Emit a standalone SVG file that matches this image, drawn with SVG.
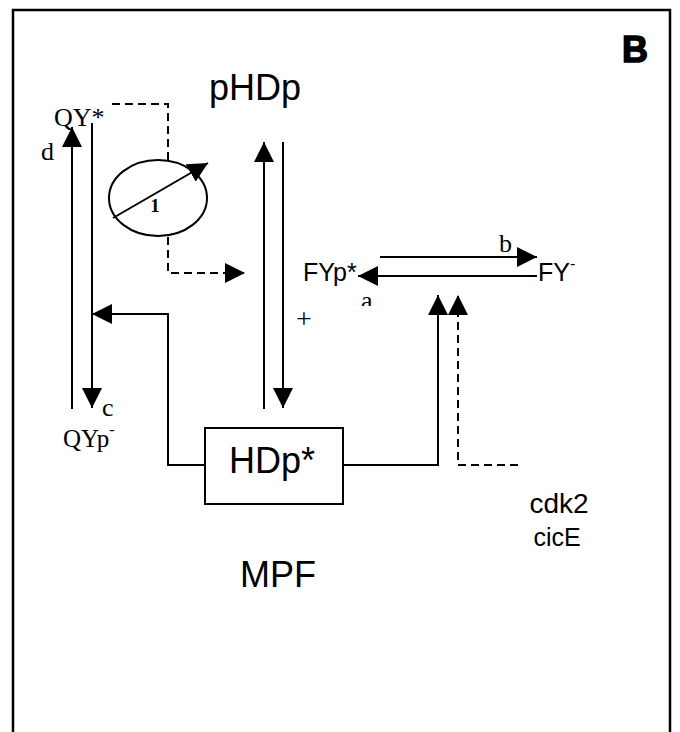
<svg xmlns="http://www.w3.org/2000/svg" width="680" height="732" viewBox="0 0 680 732">
<style>
.ln{stroke:#000;stroke-width:2;fill:none}
.ds{stroke:#000;stroke-width:2;fill:none;stroke-dasharray:8 5}
.sans{font-family:"Liberation Sans",Arial,sans-serif;fill:#000}
.serif{font-family:"Liberation Serif","Times New Roman",serif;fill:#000}
</style>
<defs>
<marker id="ah" viewBox="0 0 20 20" refX="20" refY="10" markerWidth="20" markerHeight="20" markerUnits="userSpaceOnUse" orient="auto">
<path d="M0,0 L20,10 L0,20 Z" fill="#000"/>
</marker>
<clipPath id="clipA"><rect x="350" y="285" width="40" height="21"/></clipPath>
</defs>
<rect width="680" height="732" fill="#fff"/>
<rect x="13" y="10" width="657" height="740" fill="none" stroke="#000" stroke-width="2.5"/>
<text class="sans" x="622" y="62" font-size="36" font-weight="bold" stroke="#000" stroke-width="1.5">B</text>

<g id="connectors">
<line class="ln" x1="72" y1="409" x2="72" y2="127" marker-end="url(#ah)"/>
<line class="ln" x1="92" y1="123" x2="92" y2="408" marker-end="url(#ah)"/>
<line class="ln" x1="264" y1="409" x2="264" y2="142" marker-end="url(#ah)"/>
<line class="ln" x1="283" y1="142" x2="283" y2="408" marker-end="url(#ah)"/>
<polyline class="ds" points="112,104 168,104 168,160"/>
<polyline class="ds" points="168,237 168,273 245,273" marker-end="url(#ah)"/>
<line class="ln" x1="113" y1="218" x2="208" y2="163" marker-end="url(#ah)"/>
<polyline class="ln" points="205,465 168,465 168,314 92,314" marker-end="url(#ah)"/>
<polyline class="ln" points="343,465 438,465 438,295" marker-end="url(#ah)"/>
<polyline class="ds" points="518,465 458,465 458,295" marker-end="url(#ah)"/>
<line class="ln" x1="380" y1="257" x2="537" y2="257" marker-end="url(#ah)"/>
<line class="ln" x1="537" y1="276" x2="358" y2="276" marker-end="url(#ah)"/>
</g>

<g id="node-ellipse">
<ellipse class="ln" cx="158" cy="198" rx="49" ry="38"/>
<text class="serif" x="155" y="212" font-size="19" font-weight="bold" text-anchor="middle">1</text>
</g>

<g id="node-pHDp"><text class="sans" x="255" y="100" font-size="36" text-anchor="middle">pHDp</text></g>
<g id="node-QY"><text class="serif" x="54" y="126" font-size="26">QY*</text></g>
<g id="label-d"><text class="serif" x="41" y="160" font-size="26">d</text></g>
<g id="label-c"><text class="serif" x="102" y="416" font-size="26">c</text></g>
<g id="node-QYp"><text class="serif" x="63" y="447" font-size="25">QYp<tspan dy="-12" font-size="16">-</tspan></text></g>
<g id="label-plus"><text class="serif" x="304" y="328" font-size="28" text-anchor="middle">+</text></g>

<g id="node-HDp">
<rect class="ln" x="205" y="428" width="138" height="76"/>
<text class="sans" x="272" y="473" font-size="36" text-anchor="middle">HDp*</text>
</g>
<g id="node-MPF"><text class="sans" x="278" y="587" font-size="36" text-anchor="middle">MPF</text></g>

<g id="node-FYp"><text class="sans" x="303" y="281" font-size="25">FYp*</text></g>
<g id="node-FY"><text class="sans" x="538" y="281" font-size="25">FY<tspan dy="-12" font-size="16">-</tspan></text></g>
<g id="label-b"><text class="serif" x="499" y="252" font-size="26">b</text></g>
<g id="label-a"><text class="serif" x="361" y="309" font-size="26" clip-path="url(#clipA)">a</text></g>

<g id="node-cdk2">
<text class="sans" x="559" y="513" font-size="28" text-anchor="middle">cdk2</text>
<text class="sans" x="557" y="546" font-size="25" text-anchor="middle">cicE</text>
</g>
</svg>
